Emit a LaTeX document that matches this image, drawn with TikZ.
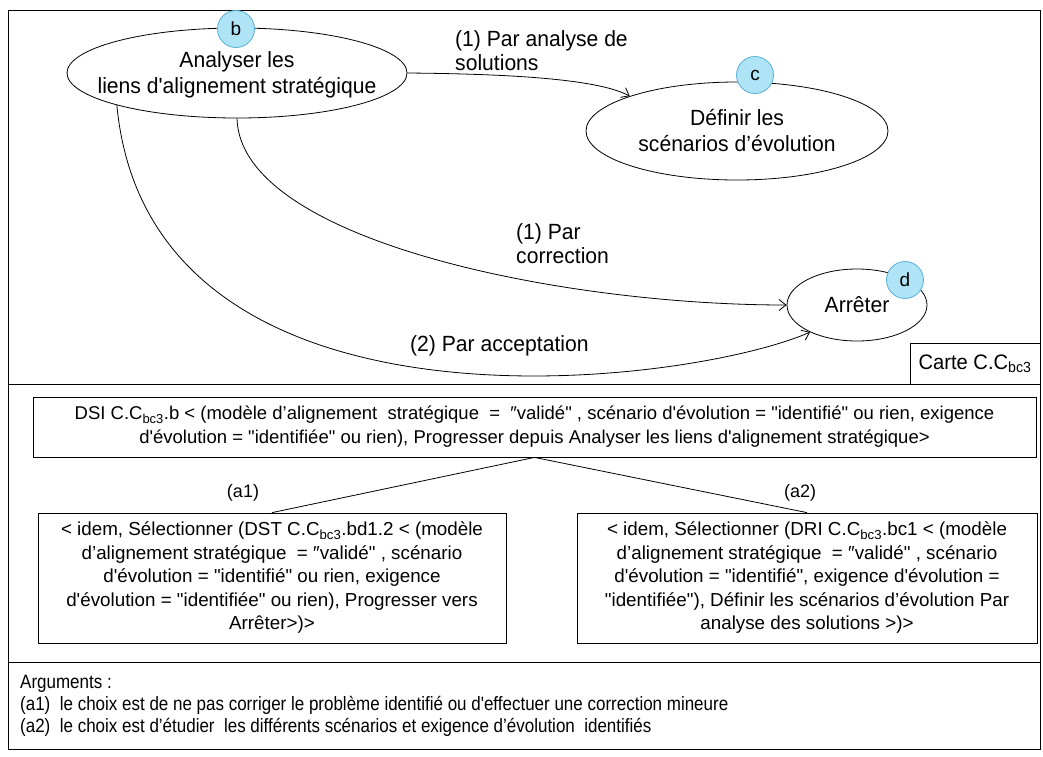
\documentclass[tikz,border=0pt]{standalone}
\usepackage{fontspec}
\setmainfont{Liberation Sans}[Ligatures=TeXOff]
\newfontfamily\condf{Liberation Sans}[Ligatures=TeXOff,FakeStretch=0.96]
\newfontfamily\narrowf{Liberation Sans}[Ligatures=TeXOff,FakeStretch=0.88]
\usetikzlibrary{shapes.geometric,arrows.meta}
\definecolor{circfill}{RGB}{175,228,246}
\definecolor{circdraw}{RGB}{90,175,212}
\begin{document}
\begin{tikzpicture}[x=1pt,y=-1pt,
  ell/.style={draw,ellipse,inner sep=0pt,line width=0.8pt,align=center,font=\condf\fontsize{22}{26}\selectfont},
  elltext/.style={inner sep=0pt,align=center,font=\condf\fontsize{22}{26}\selectfont},
  badge/.style={circle,draw=circdraw,fill=circfill,minimum size=37pt,inner sep=0pt,line width=0.8pt,font=\fontsize{19}{20}\selectfont},
  lbl/.style={align=left,inner sep=0pt,anchor=west,font=\condf\fontsize{22}{24}\selectfont},
  box/.style={draw,line width=0.8pt,inner sep=0pt,align=center,font=\fontsize{18.8}{23.5}\selectfont},
  topbox/.style={draw,line width=0.8pt,inner sep=0pt,align=center,font=\fontsize{18.5}{24}\selectfont},
  arr/.style={-{Straight Barb[length=7pt,width=11pt]},line width=0.8pt},
  conn/.style={line width=0.8pt},
  frame/.style={line width=0.9pt}
]
\useasboundingbox (0,0) rectangle (1043,756);
% frame and separators
\draw[frame] (8,10) rectangle (1040,749);
\draw[frame] (8,384) -- (1040,384);
\draw[frame] (8,662) -- (1040,662);
% carte box
\node[draw,line width=0.8pt,minimum width=130pt,minimum height=41pt,inner sep=0pt,font=\condf\fontsize{21}{22}\selectfont] (carte) at (975,363.5) {Carte C.C\textsubscript{bc3}};

% ellipses
\node[ell,minimum width=340pt,minimum height=90pt] (b) at (237,73) {};
\node[elltext] (bt) at (237,75) {Analyser les\\liens d'alignement stratégique};
\node[ell,minimum width=302pt,minimum height=98pt] (c) at (737,131) {Définir les\\scénarios d’évolution};
\node[ell,minimum width=140pt,minimum height=72pt] (d) at (857,305) {Arrêter};
\node[badge] (bb) at (236,29) {b};
\node[badge] (bc) at (755,75) {c};
\node[badge] (bd) at (905,280) {d};

% edges
\draw[arr] (b.east) .. controls (520,74) and (600,80) .. (c.162);
\draw[arr] (b.south) .. controls (240,240) and (560,305) .. (d.west);
\draw[arr] (b.195) .. controls (150,455) and (690,385) .. (d.210);
\node[lbl] (l1) at (455,51) {(1) Par analyse de\\solutions};
\node[lbl] (l2) at (516,243.5) {(1) Par\\correction};
\node[lbl] (l3) at (410,346) {(2) Par acceptation};

% boxes
\node[topbox,minimum width=1003pt,minimum height=60pt] (top) at (534.5,427)
  {DSI C.C\textsubscript{bc3}.b < (modèle d’alignement \ stratégique \ = \ ″validé" , scénario d'évolution = "identifié" ou rien, exigence\\
   d'évolution = "identifiée" ou rien), Progresser depuis Analyser les liens d'alignement stratégique>};
\node[box,minimum width=468pt,minimum height=130pt] (lb) at (272,578)
  {< idem, Sélectionner (DST C.C\textsubscript{bc3}.bd1.2 < (modèle\\
   d’alignement stratégique \ = ″validé" , scénario\\
   d'évolution = "identifié" ou rien, exigence\\
   d'évolution = "identifiée" ou rien), Progresser vers\\
   Arrêter>)>};
\node[box,minimum width=460pt,minimum height=130pt] (rb) at (807,578)
  {< idem, Sélectionner (DRI C.C\textsubscript{bc3}.bc1 < (modèle\\
   d’alignement stratégique \ = ″validé" , scénario\\
   d'évolution = "identifié", exigence d'évolution =\\
   "identifiée"), Définir les scénarios d’évolution Par\\
   analyse des solutions >)>};
\draw[conn] (top.south) -- (lb.north);
\draw[conn] (top.south) -- (rb.north);
\node[font=\fontsize{18}{20}\selectfont,inner sep=0pt] (a1) at (243,493) {(a1)};
\node[font=\fontsize{18}{20}\selectfont,inner sep=0pt] (a2) at (800,493) {(a2)};

% arguments
\node[anchor=west,align=left,inner sep=0pt,font=\narrowf\fontsize{19.3}{22}\selectfont] (args) at (20,706)
  {Arguments :\\
   (a1) \ le choix est de ne pas corriger le problème identifié ou d'effectuer une correction mineure\\
   (a2) \ le choix est d’étudier \ les différents scénarios et exigence d’évolution \ identifiés};
\end{tikzpicture}
\end{document}
